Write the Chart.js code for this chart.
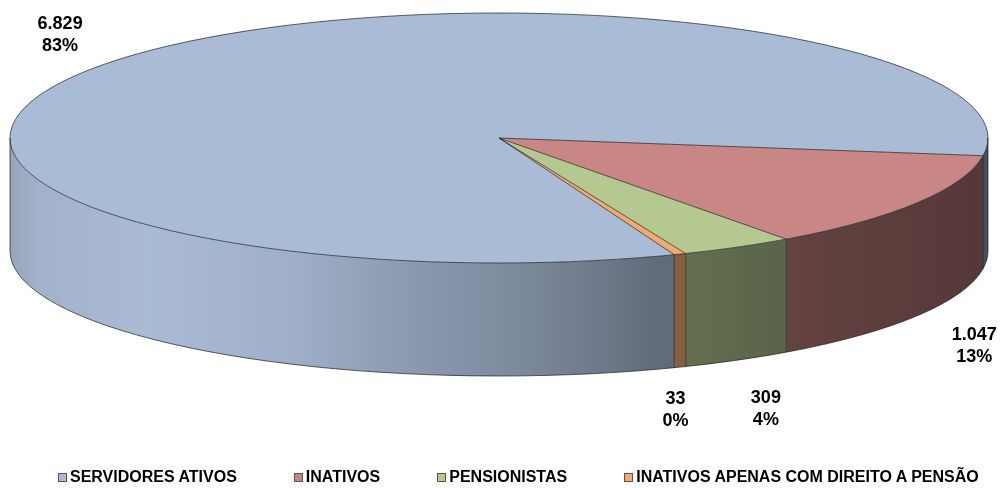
<!DOCTYPE html>
<html><head><meta charset="utf-8">
<script src="https://cdn.jsdelivr.net/npm/chart.js@4.4.1/dist/chart.umd.min.js"></script>
<style>
html,body{margin:0;padding:0;background:#fff;overflow:hidden}
#wrap{position:relative;width:1002px;height:488px}
#legend{position:absolute;left:58px;top:468px;display:flex;gap:57px;font:bold 16px "Liberation Sans",Arial,sans-serif;color:#000;white-space:nowrap;line-height:18px}
#legend .item{display:flex;align-items:center}
#legend .box{width:7px;height:7px;border:1px solid #555;margin-right:3px}
</style></head><body>
<div id="wrap"><canvas id="c" width="1002" height="488"></canvas><div id="legend"></div></div>
<script>
const categories = ['SERVIDORES ATIVOS', 'INATIVOS', 'PENSIONISTAS', 'INATIVOS APENAS COM DIREITO A PENSÃO'];
const values = [6829, 1047, 309, 33];
const colors = ['#AABBD5', '#C88684', '#B4C88F', '#F2AA70'];

// ---- style / geometry of the 3D projection ----
const CX = 499, CY = 138, RA = 489, RB = 125, DEPTH = 113;
const LA = 555, LB = 184;
const LABEL_NUDGE = [[-5, 12], [0, 0], [-4, -3], [-29, -12]];
const WALL_SHADE = [[0,0.88],[0.03,0.95],[0.143,1.0],[0.297,0.93],[0.419,0.81],[0.5,0.75],[0.583,0.67],[0.665,0.57],[0.787,0.5],[1,0.42]];

function shade(hex, f) {
  const n = parseInt(hex.slice(1), 16);
  const r = Math.round(((n >> 16) & 255) * f), g = Math.round(((n >> 8) & 255) * f), b = Math.round((n & 255) * f);
  return `rgb(${r},${g},${b})`;
}
function wallGradient(ctx, hex) {
  const g = ctx.createLinearGradient(CX - RA, 0, CX + RA, 0);
  WALL_SHADE.forEach(([t, f]) => g.addColorStop(t, shade(hex, f)));
  return g;
}
function frontRanges(s, e) {
  const out = [];
  for (let k = -1; k <= 2; k++) {
    const lo = Math.max(s, 2 * Math.PI * k), hi = Math.min(e, Math.PI + 2 * Math.PI * k);
    if (hi > lo) out.push([lo, hi]);
  }
  return out;
}
function fmt(v) { return String(v).replace(/\B(?=(\d{3})+(?!\d))/g, '.'); }

const pie3d = {
  id: 'pie3d',
  beforeDatasetsDraw(chart) {
    const ctx = chart.ctx;
    const meta = chart.getDatasetMeta(0);
    // side walls
    meta.data.forEach((arc, i) => {
      frontRanges(arc.startAngle, arc.endAngle).forEach(([a1, a2]) => {
        ctx.beginPath();
        ctx.ellipse(CX, CY, RA, RB, 0, a1, a2, false);
        ctx.ellipse(CX, CY + DEPTH, RA, RB, 0, a2, a1, true);
        ctx.closePath();
        ctx.fillStyle = wallGradient(ctx, colors[i]);
        ctx.fill();
      });
    });
    // top face: library arcs squashed into the ellipse
    const arc0 = meta.data[0];
    ctx.save();
    ctx.translate(CX, CY);
    ctx.scale(RA / arc0.outerRadius, RB / arc0.outerRadius);
    ctx.translate(-arc0.x, -arc0.y);
  },
  afterDatasetsDraw(chart) {
    const ctx = chart.ctx;
    ctx.restore();
    const meta = chart.getDatasetMeta(0);
    // outlines
    ctx.save();
    ctx.strokeStyle = 'rgba(30,30,35,0.7)';
    ctx.lineWidth = 1;
    ctx.beginPath();
    ctx.ellipse(CX, CY, RA, RB, 0, 0, 2 * Math.PI);
    ctx.stroke();
    ctx.beginPath();
    ctx.ellipse(CX, CY + DEPTH, RA, RB, 0, 0, Math.PI);
    ctx.moveTo(CX - RA, CY); ctx.lineTo(CX - RA, CY + DEPTH);
    ctx.moveTo(CX + RA, CY); ctx.lineTo(CX + RA, CY + DEPTH);
    meta.data.forEach(arc => {
      const a = arc.startAngle;
      const px = CX + RA * Math.cos(a), py = CY + RB * Math.sin(a);
      ctx.moveTo(CX, CY); ctx.lineTo(px, py);
      if (Math.sin(a) > 0) { ctx.moveTo(px, py); ctx.lineTo(px, py + DEPTH); }
    });
    ctx.stroke();
    ctx.restore();
    // data labels
    const total = values.reduce((a, b) => a + b, 0);
    ctx.save();
    ctx.font = 'bold 18px "Liberation Sans", Arial, sans-serif';
    ctx.fillStyle = '#000';
    ctx.textAlign = 'center';
    ctx.textBaseline = 'middle';
    meta.data.forEach((arc, i) => {
      const mid = (arc.startAngle + arc.endAngle) / 2;
      const s = Math.sin(mid);
      const x = CX + LA * Math.cos(mid) + LABEL_NUDGE[i][0];
      const y = CY + LB * s + (s > 0 ? DEPTH : 0) + LABEL_NUDGE[i][1];
      ctx.fillText(fmt(values[i]), x, y - 11);
      ctx.fillText(Math.round(values[i] / total * 100) + '%', x, y + 11);
    });
    ctx.restore();
  }
};

const chart = new Chart(document.getElementById('c'), {
  type: 'pie',
  data: {
    labels: categories,
    datasets: [{ data: values, backgroundColor: colors, borderWidth: 0 }]
  },
  options: {
    responsive: false,
    animation: false,
    events: [],
    rotation: 159,
    plugins: { legend: { display: false }, tooltip: { enabled: false } }
  },
  plugins: [pie3d]
});

// HTML legend built from the library's legend items
const items = Chart.overrides.pie.plugins.legend.labels.generateLabels(chart);
const leg = document.getElementById('legend');
items.forEach(it => {
  const d = document.createElement('div'); d.className = 'item';
  const b = document.createElement('span'); b.className = 'box'; b.style.background = it.fillStyle;
  const t = document.createElement('span'); t.textContent = it.text;
  d.appendChild(b); d.appendChild(t); leg.appendChild(d);
});
</script>
</body></html>
